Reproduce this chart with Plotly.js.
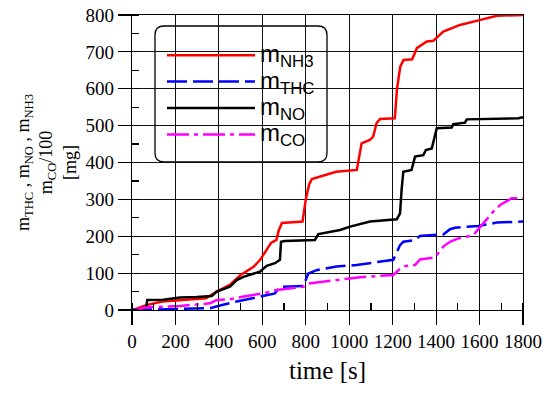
<!DOCTYPE html>
<html>
<head>
<meta charset="utf-8">
<script src="https://cdn.plot.ly/plotly-3.0.1.min.js"></script>
<style>html,body{margin:0;padding:0;background:#fff;}#chart{width:550px;height:395px;}</style>
</head>
<body>
<div id="chart"></div>
<script>
// time [s] and cumulative mass [mg]
const tNH3 = [0, 70, 140, 220, 340, 390, 450, 500, 560, 590, 620, 640, 665, 675, 690, 740, 785, 800, 815, 828, 865, 940, 1035, 1045, 1057, 1095, 1110, 1126, 1142, 1210, 1220, 1235, 1250, 1290, 1311, 1357, 1387, 1433, 1510, 1600, 1680, 1800];
const mNH3 = [0, 14, 23, 27, 32, 50, 68, 95, 117, 136, 165, 182, 190, 215, 236, 238, 240, 300, 340, 355, 362, 375, 380, 410, 452, 461, 470, 507, 518, 520, 600, 660, 678, 680, 710, 728, 730, 755, 773, 786, 798, 800];

const tTHC = [0, 200, 300, 359, 405, 482, 589, 658, 681, 789, 812, 850, 942, 1034, 1203, 1234, 1249, 1303, 1326, 1433, 1464, 1487, 1594, 1679, 1800];
const mTHC = [0, 2, 3, 5, 12, 23, 36, 45, 63, 65, 99, 108, 118, 122, 136, 176, 185, 190, 201, 205, 219, 223, 228, 237, 240];

const tNO = [0, 65, 70, 144, 221, 298, 367, 390, 451, 482, 513, 589, 620, 658, 681, 686, 704, 842, 858, 958, 1004, 1096, 1219, 1234, 1241, 1249, 1287, 1303, 1341, 1353, 1380, 1395, 1403, 1472, 1479, 1533, 1541, 1779, 1800];
const mNO = [0, 5, 27, 28, 34, 35, 38, 50, 63, 81, 90, 104, 120, 127, 136, 185, 187, 190, 206, 217, 226, 240, 246, 262, 325, 375, 380, 416, 420, 434, 438, 470, 493, 495, 504, 508, 517, 520, 523];

const tCO = [0, 68, 221, 298, 359, 390, 451, 528, 604, 666, 789, 812, 942, 1050, 1203, 1234, 1257, 1303, 1326, 1395, 1433, 1464, 1502, 1571, 1617, 1663, 1695, 1748, 1800];
const mCO100 = [0, 7, 11, 14, 18, 27, 29, 38, 45, 54, 63, 72, 81, 89, 95, 112, 119, 122, 137, 143, 172, 185, 194, 203, 235, 267, 285, 303, 303];

const seriesNames = ['m<sub>NH3</sub>', 'm<sub>THC</sub>', 'm<sub>NO</sub>', 'm<sub>CO</sub>'];
const xTicks = [0, 200, 400, 600, 800, 1000, 1200, 1400, 1600, 1800];
const yTicks = [0, 100, 200, 300, 400, 500, 600, 700, 800];

const big = s => '<span style="font-size:24px">' + s + '</span>';

const traces = [
  {x: tNH3, y: mNH3, name: big(seriesNames[0]), mode: 'lines', line: {color: '#ff0000', width: 2.5}},
  {x: tTHC, y: mTHC, name: big(seriesNames[1]), mode: 'lines', line: {color: '#0000ff', width: 2.5, dash: '20px,6px'}},
  {x: tNO, y: mNO, name: big(seriesNames[2]), mode: 'lines', line: {color: '#000000', width: 2.5}},
  {x: tCO, y: mCO100, name: big(seriesNames[3]), mode: 'lines', line: {color: '#ff00ff', width: 2.5, dash: '22px,5px,4px,5px'}}
];

const serif = '"Liberation Serif", "Times New Roman", serif';
const sans = '"Liberation Sans", Arial, sans-serif';
const W = 391, H = 295;
const bx0 = (155 - 132) / W, bx1 = (327 - 132) / W;
const by1 = (310 - 26) / H, by0 = (310 - 162) / H;
const rx = 9 / W, ry = 9 / H;
const boxPath = 'M' + (bx0 + rx) + ',' + by1 + ' L' + (bx1 - rx) + ',' + by1 +
  ' Q' + bx1 + ',' + by1 + ' ' + bx1 + ',' + (by1 - ry) +
  ' L' + bx1 + ',' + (by0 + ry) + ' Q' + bx1 + ',' + by0 + ' ' + (bx1 - rx) + ',' + by0 +
  ' L' + (bx0 + rx) + ',' + by0 + ' Q' + bx0 + ',' + by0 + ' ' + bx0 + ',' + (by0 + ry) +
  ' L' + bx0 + ',' + (by1 - ry) + ' Q' + bx0 + ',' + by1 + ' ' + (bx0 + rx) + ',' + by1 + ' Z';

const layout = {
  width: 550, height: 395,
  margin: {l: 132, r: 27, t: 15, b: 85},
  paper_bgcolor: '#fff', plot_bgcolor: '#fff',
  font: {family: serif, color: '#000', size: 19},
  showlegend: true,
  legend: {
    x: (162 - 132) / W, y: (310 - 37) / H, xanchor: 'left', yanchor: 'top',
    bgcolor: 'rgba(0,0,0,0)', borderwidth: 0,
    font: {family: sans, size: 18, color: '#000'},
    itemwidth: 88, tracegroupgap: 0
  },
  xaxis: {
    range: [0, 1800], tickvals: xTicks, ticktext: xTicks.map(String),
    showline: true, linecolor: '#000', linewidth: 1.2, mirror: true,
    ticks: 'outside', ticklen: 14, tickcolor: '#000', tickwidth: 1.2,
    showgrid: true, gridcolor: '#111', gridwidth: 1.2, zeroline: false,
    minor: {dtick: 100, tick0: 0, ticks: 'inside', ticklen: 7, tickcolor: '#000', tickwidth: 1.2, showgrid: false},
    tickfont: {family: serif, size: 19, color: '#000'},
    title: {text: 'time [s]', font: {family: serif, size: 25, color: '#000'}, standoff: 10}
  },
  yaxis: {
    range: [0, 800], tickvals: yTicks, ticktext: yTicks.map(String),
    showline: true, linecolor: '#000', linewidth: 1.2, mirror: true,
    ticks: 'outside', ticklen: 13, tickcolor: '#000', tickwidth: 1.2,
    showgrid: true, gridcolor: '#111', gridwidth: 1.2, zeroline: false,
    minor: {dtick: 50, tick0: 0, ticks: 'inside', ticklen: 7, tickcolor: '#000', tickwidth: 1.2, showgrid: false},
    tickfont: {family: serif, size: 19, color: '#000'},
    title: {text: 'm<sub>THC</sub> , m<sub>NO</sub> , m<sub>NH3</sub><br>m<sub>CO</sub>/100<br>[mg]', font: {family: serif, size: 18, color: '#000'}, standoff: 4}
  },
  shapes: [{type: 'path', xref: 'paper', yref: 'paper', path: boxPath, fillcolor: '#fff', line: {color: '#000', width: 1.3}, layer: 'between'}]
};

Plotly.newPlot('chart', traces, layout, {displayModeBar: false, staticPlot: true});
</script>
</body>
</html>
